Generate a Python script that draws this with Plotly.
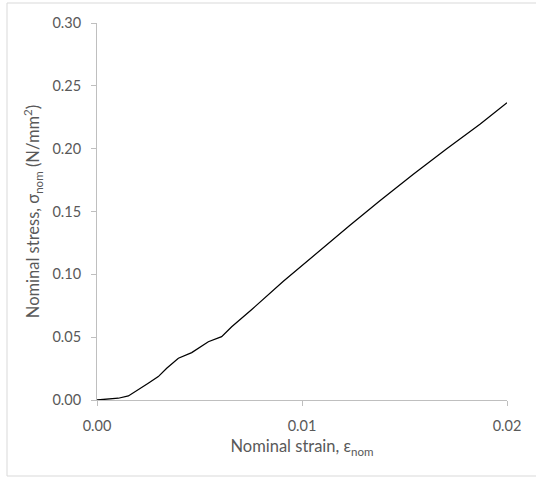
import plotly.graph_objects as go

# Nominal stress-strain response
strain = [0.0, 0.0005, 0.00104, 0.00153, 0.00202, 0.0025, 0.00299, 0.0034,
          0.00397, 0.00462, 0.00543, 0.00608, 0.00657, 0.00706, 0.00755,
          0.00909, 0.01072, 0.01234, 0.0138, 0.01543, 0.01706, 0.01868, 0.02]
stress = [0.0, 0.0005, 0.0014, 0.0032, 0.008, 0.0133, 0.0186, 0.0252,
          0.0332, 0.0377, 0.0464, 0.0504, 0.0583, 0.065, 0.072,
          0.0945, 0.117, 0.139, 0.1585, 0.1797, 0.2, 0.2195, 0.2366]

x_ticks = [0.0, 0.01, 0.02]
x_tick_labels = ["0.00", "0.01", "0.02"]
y_ticks = [0.0, 0.05, 0.10, 0.15, 0.20, 0.25, 0.30]
y_tick_labels = ["0.00", "0.05", "0.10", "0.15", "0.20", "0.25", "0.30"]

W, H = 536, 477
ML, MR, MT, MB = 97, 29, 23, 77
pw, ph = W - ML - MR, H - MT - MB

FONT = "Lato"
TXT = "#595959"
AXC = "#bfbfbf"

fig = go.Figure()
fig.add_trace(go.Scatter(
    x=strain, y=stress, mode="lines",
    line=dict(color="black", width=1.25),
    showlegend=False, hoverinfo="skip",
))

axis_common = dict(
    showgrid=False, zeroline=False, showline=True, linecolor=AXC, linewidth=1,
    ticks="outside", ticklen=5, tickcolor=AXC, tickwidth=1,
    tickfont=dict(family=FONT, size=14.5, color=TXT),
)

fig.update_layout(
    width=W, height=H,
    margin=dict(l=ML, r=MR, t=MT, b=MB, pad=0),
    paper_bgcolor="white", plot_bgcolor="white",
    xaxis=dict(range=[0, 0.02], tickvals=x_ticks, ticktext=x_tick_labels,
               ticklabelstandoff=8,
               title=dict(text="Nominal strain, ε<sub>nom</sub>",
                          font=dict(family=FONT, size=16.5, color=TXT), standoff=7),
               **axis_common),
    yaxis=dict(range=[0, 0.30], tickvals=y_ticks, ticktext=y_tick_labels,
               ticklabelstandoff=7,
               title=dict(text="Nominal stress, σ<sub>nom</sub> (N/mm<sup>2</sup>)",
                          font=dict(family=FONT, size=16.5, color=TXT), standoff=8),
               **axis_common),
)

# Chart-area frame
fig.add_shape(type="rect", xref="paper", yref="paper",
              x0=(7 - ML) / pw, x1=(W + 2 - ML) / pw,
              y0=(H - MB - 476) / ph, y1=(H - MB - 3) / ph,
              line=dict(color="#d9d9d9", width=1), fillcolor="rgba(0,0,0,0)",
              layer="below")

fig.write_html("out.html")
